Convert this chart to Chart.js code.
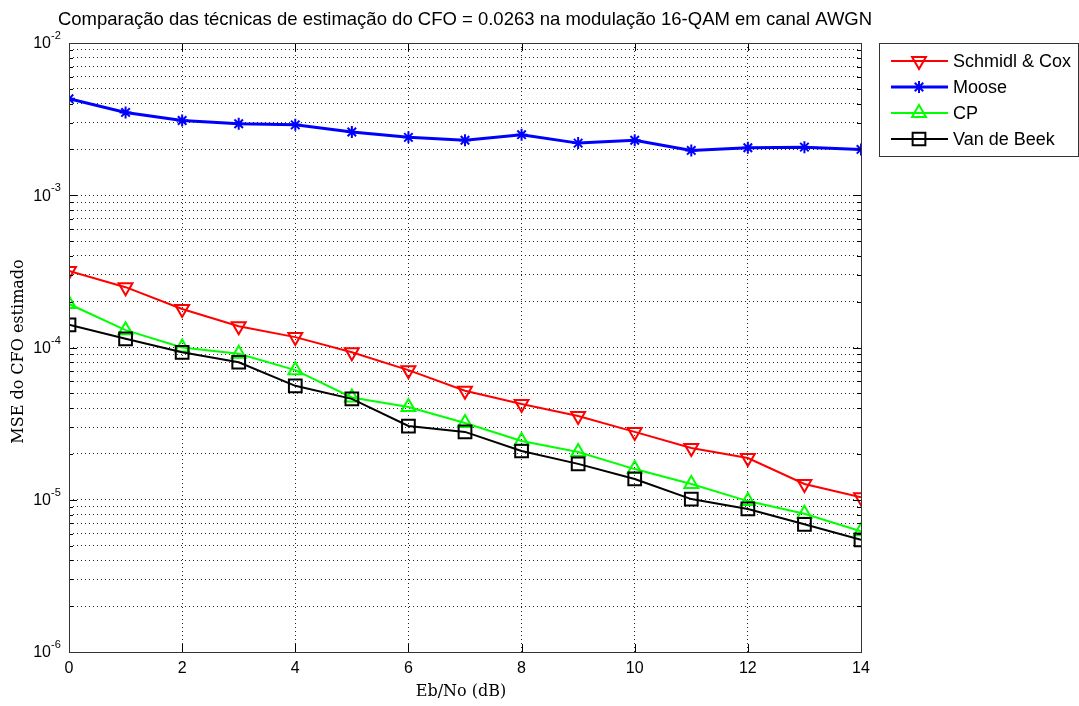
<!DOCTYPE html>
<html>
<head>
<meta charset="utf-8">
<script src="https://cdn.jsdelivr.net/npm/chart.js@4/dist/chart.umd.min.js"></script>
<style>
    html, body { margin: 0; padding: 0; background: #fff; }
    #wrap { width: 1079px; height: 706px; }
</style>
</head>
<body>
<div id="wrap"><canvas id="cfoChart" width="1079" height="706"></canvas></div>
<script>
// Eb/No (dB)
const ebNo = [0, 1, 2, 3, 4, 5, 6, 7, 8, 9, 10, 11, 12, 13, 14];

// MSE do CFO estimado, por técnica
const schmidlCox = [3.18e-4, 2.49e-4, 1.79e-4, 1.38e-4, 1.17e-4, 9.3e-5, 7.1e-5, 5.2e-5, 4.25e-5, 3.55e-5, 2.79e-5, 2.19e-5, 1.88e-5, 1.27e-5, 1.04e-5];
const moose = [4.3e-3, 3.5e-3, 3.1e-3, 2.95e-3, 2.9e-3, 2.6e-3, 2.4e-3, 2.3e-3, 2.5e-3, 2.2e-3, 2.3e-3, 1.97e-3, 2.05e-3, 2.07e-3, 2.0e-3];
const cp = [1.93e-4, 1.30e-4, 1.0e-4, 9.1e-5, 7.1e-5, 4.7e-5, 4.07e-5, 3.19e-5, 2.43e-5, 2.06e-5, 1.59e-5, 1.27e-5, 9.8e-6, 8.1e-6, 6.2e-6];
const vanDeBeek = [1.41e-4, 1.14e-4, 9.3e-5, 8.0e-5, 5.6e-5, 4.6e-5, 3.05e-5, 2.79e-5, 2.09e-5, 1.72e-5, 1.37e-5, 1.01e-5, 8.7e-6, 6.9e-6, 5.45e-6];

// ticks
const xTicks = [0, 2, 4, 6, 8, 10, 12, 14];
const yDecades = [-6, -5, -4, -3, -2];

const seriesNames = ['Schmidl & Cox', 'Moose', 'CP', 'Van de Beek'];
const titleText = 'Comparação das técnicas de estimação do CFO = 0.0263 na modulação 16-QAM em canal AWGN';
const xLabel = 'Eb/No (dB)';
const yLabel = 'MSE do CFO estimado';

const sans = '"Liberation Sans", Arial, sans-serif';
const serif = '"DejaVu Serif", "Liberation Serif", serif';

function pts(ys) {
    return ys.map((v, i) => ({ x: ebNo[i], y: v }));
}

// marcas de escala (1..9 x 10^k) para a grade logaritmica
function logTicks() {
    const out = [];
    for (let k = yDecades[0]; k < yDecades[yDecades.length - 1]; k++) {
        for (let m = 1; m < 10; m++) out.push({ value: m * Math.pow(10, k), major: m === 1 });
    }
    out.push({ value: Math.pow(10, yDecades[yDecades.length - 1]), major: true });
    return out;
}

// moldura, marcas internas, textos e legenda estilo MATLAB
const matlabFrame = {
    id: 'matlabFrame',
    afterDraw(chart) {
        const ctx = chart.ctx;
        const a = chart.chartArea;
        const xs = chart.scales.x;
        const ys = chart.scales.y;

        ctx.save();
        ctx.strokeStyle = '#000';
        ctx.lineWidth = 1;
        ctx.setLineDash([]);

        // marcas internas
        ctx.beginPath();
        xTicks.forEach(v => {
            const px = Math.round(xs.getPixelForValue(v)) + 0.5;
            ctx.moveTo(px, a.bottom); ctx.lineTo(px, a.bottom - 8);
            ctx.moveTo(px, a.top); ctx.lineTo(px, a.top + 8);
        });
        ys.ticks.forEach(t => {
            const py = Math.round(ys.getPixelForValue(t.value)) + 0.5;
            const len = t.major ? 8 : 4;
            ctx.moveTo(a.left, py); ctx.lineTo(a.left + len, py);
            ctx.moveTo(a.right, py); ctx.lineTo(a.right - len, py);
        });
        ctx.stroke();

        ctx.strokeStyle = '#333';
        ctx.strokeRect(Math.round(a.left) + 0.5, Math.round(a.top) + 0.5,
            Math.round(a.right - a.left), Math.round(a.bottom - a.top));

        ctx.fillStyle = '#000';

        // rótulos do eixo x
        ctx.font = '16px ' + sans;
        ctx.textAlign = 'center';
        ctx.textBaseline = 'middle';
        xTicks.forEach(v => ctx.fillText(String(v), xs.getPixelForValue(v), a.bottom + 17));

        // rótulos do eixo y: 10 com expoente
        yDecades.forEach(k => {
            const py = ys.getPixelForValue(Math.pow(10, k));
            ctx.font = '16px ' + sans;
            ctx.textAlign = 'right';
            ctx.textBaseline = 'middle';
            ctx.fillText('10', a.left - 18, py + 1);
            ctx.font = '11px ' + sans;
            ctx.textAlign = 'left';
            ctx.textBaseline = 'alphabetic';
            ctx.fillText('-' + Math.abs(k), a.left - 18, py - 4);
        });

        // título
        ctx.font = '18.5px ' + sans;
        ctx.textAlign = 'center';
        ctx.textBaseline = 'middle';
        ctx.fillText(titleText, (a.left + a.right) / 2, 20);

        // títulos dos eixos
        ctx.font = '16px ' + serif;
        ctx.fillText(xLabel, (a.left + a.right) / 2 - 4, a.bottom + 40);
        ctx.save();
        ctx.translate(19, (a.top + a.bottom) / 2 + 4);
        ctx.rotate(-Math.PI / 2);
        ctx.fillText(yLabel, 0, 0);
        ctx.restore();

        // legenda
        const lx = a.right + 18, ly = a.top, lw = 1078 - lx, lh = 113;
        ctx.fillStyle = '#fff';
        ctx.fillRect(lx, ly, lw, lh);
        ctx.strokeStyle = '#333';
        ctx.strokeRect(lx + 0.5, ly + 0.5, lw, lh);
        chart.data.datasets.forEach((ds, i) => {
            const rowY = ly + 18 + i * 26;
            ctx.strokeStyle = ds.borderColor;
            ctx.lineWidth = ds.borderWidth;
            ctx.beginPath();
            ctx.moveTo(lx + 12, rowY);
            ctx.lineTo(lx + 69, rowY);
            ctx.stroke();
            ctx.fillStyle = 'rgba(0,0,0,0)';
            ctx.lineWidth = ds.pointBorderWidth;
            Chart.helpers.drawPoint(ctx, {
                pointStyle: ds.pointStyle,
                rotation: ds.pointRotation || 0,
                radius: ds.pointRadius,
                borderWidth: ds.pointBorderWidth
            }, lx + 40, rowY);
            ctx.fillStyle = '#000';
            ctx.font = '18px ' + sans;
            ctx.textAlign = 'left';
            ctx.textBaseline = 'middle';
            ctx.fillText(ds.label, lx + 74, rowY + 1);
        });
        ctx.restore();
    }
};

const ctx = document.getElementById('cfoChart').getContext('2d');

new Chart(ctx, {
    type: 'line',
    data: {
        datasets: [
            {
                label: seriesNames[0],
                data: pts(schmidlCox),
                borderColor: '#ff0000',
                borderWidth: 2,
                pointStyle: 'triangle',
                pointRotation: 180,
                pointRadius: 8,
                pointBorderWidth: 2,
                pointBorderColor: '#ff0000',
                pointBackgroundColor: 'rgba(0,0,0,0)',
                order: 4
            },
            {
                label: seriesNames[1],
                data: pts(moose),
                borderColor: '#0000ff',
                borderWidth: 3,
                pointStyle: 'star',
                pointRadius: 6,
                pointBorderWidth: 2,
                pointBorderColor: '#0000ff',
                pointBackgroundColor: '#0000ff',
                order: 3
            },
            {
                label: seriesNames[2],
                data: pts(cp),
                borderColor: '#00ff00',
                borderWidth: 2,
                pointStyle: 'triangle',
                pointRadius: 8,
                pointBorderWidth: 2,
                pointBorderColor: '#00ff00',
                pointBackgroundColor: 'rgba(0,0,0,0)',
                order: 2
            },
            {
                label: seriesNames[3],
                data: pts(vanDeBeek),
                borderColor: '#000000',
                borderWidth: 2,
                pointStyle: 'rect',
                pointRadius: 9,
                pointBorderWidth: 2,
                pointBorderColor: '#000000',
                pointBackgroundColor: 'rgba(0,0,0,0)',
                order: 1
            }
        ]
    },
    options: {
        responsive: false,
        animation: false,
        devicePixelRatio: 1,
        layout: {
            padding: { left: 69, right: 218, top: 43, bottom: 54 }
        },
        plugins: {
            legend: { display: false },
            title: { display: false },
            tooltip: { enabled: false }
        },
        elements: {
            line: { tension: 0 }
        },
        scales: {
            x: {
                type: 'linear',
                min: 0,
                max: 14,
                afterBuildTicks: scale => { scale.ticks = xTicks.map(v => ({ value: v })); },
                ticks: { display: false },
                grid: { color: 'rgba(0,0,0,0.85)', lineWidth: 1, drawTicks: false },
                border: { display: false, dash: [1, 3] }
            },
            y: {
                type: 'logarithmic',
                min: 1e-6,
                max: 1e-2,
                afterBuildTicks: scale => { scale.ticks = logTicks(); },
                ticks: { display: false },
                grid: { color: 'rgba(0,0,0,0.85)', lineWidth: 1, drawTicks: false },
                border: { display: false, dash: [1, 3] }
            }
        }
    },
    plugins: [matlabFrame]
});
</script>
</body>
</html>
